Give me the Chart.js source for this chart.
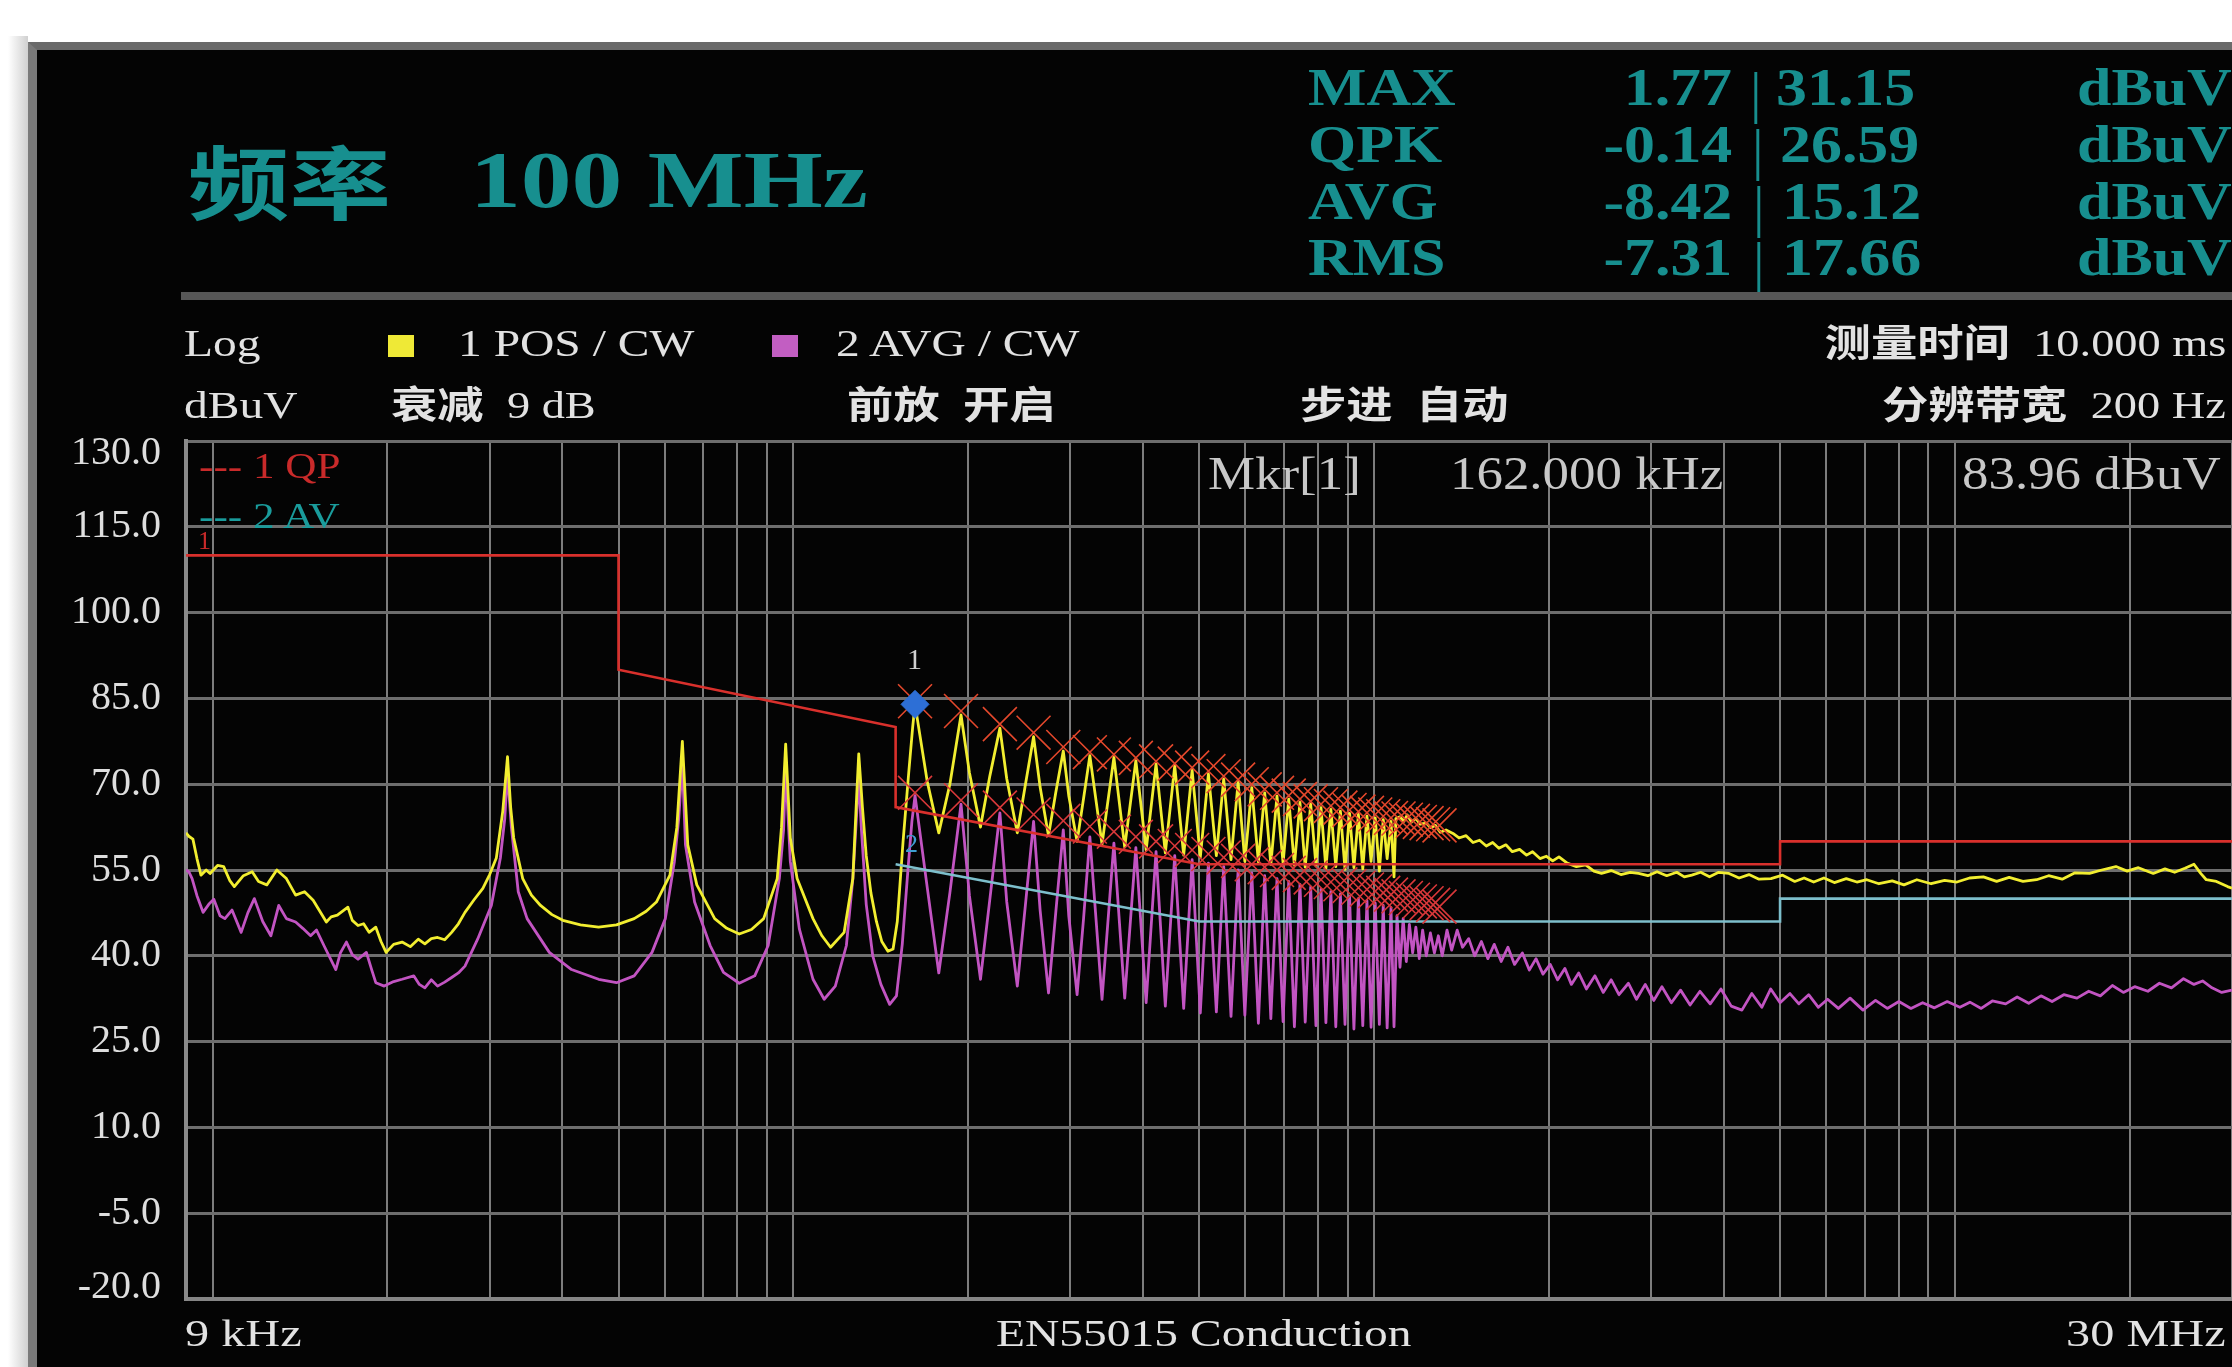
<!DOCTYPE html>
<html>
<head>
<meta charset="utf-8">
<script src="https://cdn.jsdelivr.net/npm/chart.js@4.4.1/dist/chart.umd.min.js"></script>
<style>
  body { margin: 0; width: 2232px; height: 1367px; background: #fff; position: relative; overflow: hidden;
         font-family: "Liberation Serif", "Noto Sans CJK SC", serif; }
  #shade { position: absolute; left: 8px; top: 36px; width: 20px; bottom: 0; background: linear-gradient(to right, #fff, #d0d0d0); }
  #panel { position: absolute; left: 28px; top: 42px; right: 0; bottom: 0; background: #040404;
           border-left: 9px solid #7a7a7a; border-top: 8px solid #6a6a6a; }
  #sep { position: absolute; left: 181px; right: 0; top: 292px; height: 8px; background: #575757; z-index: 2; }
  #plot { position: absolute; left: 0; top: 0; z-index: 1; }
  .t { position: absolute; white-space: nowrap; line-height: 1; z-index: 2; color: #e2e2e2;
       transform-origin: 0 50%; }
  .r { transform-origin: 100% 50%; }
  .teal { color: #178f8f; font-weight: bold; }
  .cjk { font-weight: bold; }
  .sq { position: absolute; width: 26px; height: 22px; z-index: 2; }
</style>
</head>
<body>
<div id="shade"></div>
<div id="panel"></div>

<!-- header -->
<div class="t teal" style="left:188px;top:146px;font-size:80px;transform:scaleX(1.27)">频率</div>
<div class="t teal" style="left:470px;top:140px;font-size:80px;transform:scaleX(1.27)">100 MHz</div>

<div class="t teal" style="left:1308px;top:62px;font-size:52px;transform:scaleX(1.19)">MAX</div>
<div class="t teal" style="left:1308px;top:119px;font-size:52px;transform:scaleX(1.19)">QPK</div>
<div class="t teal" style="left:1308px;top:176px;font-size:52px;transform:scaleX(1.19)">AVG</div>
<div class="t teal" style="left:1308px;top:232px;font-size:52px;transform:scaleX(1.19)">RMS</div>

<div class="t teal r" style="right:500px;top:62px;font-size:52px;transform:scaleX(1.19)">1.77</div>
<div class="t teal r" style="right:500px;top:119px;font-size:52px;transform:scaleX(1.19)">-0.14</div>
<div class="t teal r" style="right:500px;top:176px;font-size:52px;transform:scaleX(1.19)">-8.42</div>
<div class="t teal r" style="right:500px;top:232px;font-size:52px;transform:scaleX(1.19)">-7.31</div>

<div class="t teal" style="left:1750px;top:64px;font-size:58px;font-weight:normal">|</div>
<div class="t teal" style="left:1752px;top:121px;font-size:58px;font-weight:normal">|</div>
<div class="t teal" style="left:1753px;top:178px;font-size:58px;font-weight:normal">|</div>
<div class="t teal" style="left:1753px;top:234px;font-size:58px;font-weight:normal">|</div>

<div class="t teal" style="left:1776px;top:62px;font-size:52px;transform:scaleX(1.19)">31.15</div>
<div class="t teal" style="left:1780px;top:119px;font-size:52px;transform:scaleX(1.19)">26.59</div>
<div class="t teal" style="left:1782px;top:176px;font-size:52px;transform:scaleX(1.19)">15.12</div>
<div class="t teal" style="left:1782px;top:232px;font-size:52px;transform:scaleX(1.19)">17.66</div>

<div class="t teal" style="left:2077px;top:62px;font-size:52px;transform:scaleX(1.19)">dBuV</div>
<div class="t teal" style="left:2077px;top:119px;font-size:52px;transform:scaleX(1.19)">dBuV</div>
<div class="t teal" style="left:2077px;top:176px;font-size:52px;transform:scaleX(1.19)">dBuV</div>
<div class="t teal" style="left:2077px;top:232px;font-size:52px;transform:scaleX(1.19)">dBuV</div>

<div id="sep"></div>

<div class="t" style="left:184px;top:324px;font-size:38px;transform:scaleX(1.25)">Log</div>
<div class="sq" style="left:388px;top:335px;background:#efe936"></div>
<div class="t" style="left:458px;top:324px;font-size:38px;transform:scaleX(1.25)">1 POS / CW</div>
<div class="sq" style="left:772px;top:335px;background:#c25ec2"></div>
<div class="t" style="left:836px;top:324px;font-size:38px;transform:scaleX(1.25)">2 AVG / CW</div>
<div class="t r" style="right:6px;top:324px;font-size:38px;transform:scaleX(1.22)"><span class="cjk">测量时间</span>&nbsp; 10.000 ms</div>

<div class="t" style="left:184px;top:386px;font-size:38px;transform:scaleX(1.25)">dBuV</div>
<div class="t" style="left:391px;top:386px;font-size:38px;transform:scaleX(1.22)"><span class="cjk">衰减</span>&nbsp; 9 dB</div>
<div class="t" style="left:847px;top:386px;font-size:38px;transform:scaleX(1.22)"><span class="cjk">前放</span>&nbsp; <span class="cjk">开启</span></div>
<div class="t" style="left:1300px;top:386px;font-size:38px;transform:scaleX(1.22)"><span class="cjk">步进</span>&nbsp; <span class="cjk">自动</span></div>
<div class="t r" style="right:6px;top:386px;font-size:38px;transform:scaleX(1.22)"><span class="cjk">分辨带宽</span>&nbsp; 200 Hz</div>

<!-- inside the plot -->
<div class="t" style="left:199px;top:448px;font-size:36px;color:#c92a2a;transform:scaleX(1.2)">--- 1 QP</div>
<div class="t" style="left:199px;top:498px;font-size:36px;color:#1a9c9c;transform:scaleX(1.2)">--- 2 AV</div>
<div class="t" style="left:198px;top:528px;font-size:26px;color:#c92a2a">1</div>
<div class="t" style="left:1208px;top:451px;font-size:46px;color:#c8c8c8;transform:scaleX(1.15)">Mkr[1]</div>
<div class="t" style="left:1450px;top:451px;font-size:46px;color:#c8c8c8;transform:scaleX(1.15)">162.000 kHz</div>
<div class="t" style="left:1962px;top:451px;font-size:46px;color:#c8c8c8;transform:scaleX(1.15)">83.96 dBuV</div>
<div class="t" id="tag1" style="font-size:30px;color:#d0d0d0">1</div>
<div class="t" id="tag2" style="font-size:26px;color:#3e9fd2">2</div>

<!-- footer -->
<div class="t" style="left:185px;top:1314px;font-size:38px;transform:scaleX(1.27)">9 kHz</div>
<div class="t" style="left:996px;top:1314px;font-size:38px;transform:scaleX(1.25)">EN55015 Conduction</div>
<div class="t r" style="right:6px;top:1314px;font-size:38px;transform:scaleX(1.27)">30 MHz</div>

<canvas id="plot" width="2232" height="1367"></canvas>

<script>
// Values. Frequency in kHz, level in dBuV.

// 1 POS / CW, 9 kHz .. 160 kHz
const posLowFreq = [
  9.0, 9.1, 9.25, 9.4, 9.55, 9.75, 9.9, 10.2, 10.45, 10.7,
  10.9, 11.3, 11.7, 12.0, 12.4, 12.9, 13.4, 13.9, 14.4, 14.9,
  15.3, 15.7, 16.0, 16.4, 17.1, 17.4, 17.8, 18.2, 18.6, 19.1,
  19.5, 19.9, 20.5, 21.2, 21.9, 22.6, 23.2, 23.8, 24.4, 25.1,
  25.8, 26.5, 27.2, 28.2, 29.2, 30.0, 30.8, 31.6, 32.2, 32.6,
  33.0, 34.2, 35.4, 36.7, 38.4, 40.1, 43.0, 46.2, 49.6, 53.2,
  55.8, 58.1, 61.3, 63.0, 64.4, 65.8, 68.2, 73.2, 76.8, 80.7,
  84.7, 88.9, 93.8, 95.4, 97.0, 98.8, 101.5, 108.1, 112.0, 115.9,
  122.3, 126.6, 128.5, 129.6, 131.5, 133.5, 136.0, 139.0, 142.0, 145.5,
  148.5, 151.0, 154.5, 158.0, 160.5
];
const posLowLevel = [
  61.5, 60.9, 60.4, 57.0, 54.1, 55.0, 54.4, 55.8, 55.6, 53.2,
  52.1, 54.0, 54.7, 53.0, 52.4, 55.0, 53.5, 50.6, 51.2, 49.7,
  47.8, 45.9, 46.8, 47.1, 48.5, 46.2, 45.3, 45.6, 44.1, 45.0,
  42.5, 40.6, 42.0, 42.4, 41.6, 42.9, 42.1, 43.0, 43.2, 42.8,
  44.1, 45.6, 47.6, 49.8, 51.8, 54.2, 57.1, 65.3, 74.8, 66.0,
  60.6, 53.5, 50.6, 48.8, 47.2, 46.2, 45.4, 45.0, 45.4, 46.5,
  47.8, 49.4, 54.1, 62.4, 77.5, 59.4, 52.4, 46.5, 44.8, 43.8,
  44.6, 46.5, 53.5, 62.4, 77.0, 60.6, 53.5, 46.5, 43.5, 41.5,
  44.1, 53.5, 67.6, 75.3, 66.0, 57.5, 51.0, 46.0, 42.5, 40.8,
  41.2, 46.0, 60.0, 72.0, 80.0
];

// 2 AVG / CW, 9 kHz .. 160 kHz
const avgLowFreq = [
  9.0, 9.1, 9.22, 9.4, 9.63, 9.85, 10.05, 10.3, 10.5, 10.8,
  11.2, 11.5, 11.8, 12.2, 12.6, 13.0, 13.4, 13.9, 14.3, 14.75,
  15.1, 15.55, 16.3, 16.6, 17.0, 17.4, 17.8, 18.4, 18.8, 19.1,
  19.75, 20.5, 21.2, 22.2, 22.7, 23.2, 23.8, 24.4, 25.1, 25.8,
  26.5, 27.2, 28.6, 30.2, 31.3, 31.85, 32.2, 32.7, 33.6, 34.8,
  38.0, 41.5, 46.2, 49.6, 53.2, 57.1, 60.2, 62.4, 63.5, 64.4,
  65.2, 67.6, 71.9, 75.8, 80.7, 85.8, 90.5, 94.6, 96.2, 97.0,
  98.8, 102.4, 108.1, 113.0, 118.1, 123.4, 126.6, 129.6, 131.0, 133.5,
  137.0, 141.5, 146.5, 150.5, 154.0, 157.5, 160.0
];
const avgLowLevel = [
  55.0, 54.7, 53.5, 50.5, 47.6, 49.0, 49.9, 47.0, 46.5, 48.0,
  44.1, 47.5, 50.0, 46.0, 43.5, 48.8, 46.5, 45.9, 44.8, 43.5,
  44.5, 41.8, 37.6, 40.5, 42.4, 40.2, 39.4, 40.6, 37.5, 35.3,
  34.7, 35.5, 35.9, 36.5, 35.0, 34.4, 35.8, 34.7, 35.4, 36.2,
  37.0, 38.2, 42.9, 48.8, 57.1, 64.0, 72.0, 62.4, 51.2, 46.5,
  40.6, 37.6, 35.9, 35.3, 36.5, 40.6, 46.5, 56.5, 64.1, 74.0,
  59.4, 49.4, 41.8, 37.1, 35.2, 36.5, 41.8, 53.5, 62.0, 73.0,
  56.5, 44.7, 35.9, 32.4, 34.7, 41.8, 53.5, 71.0, 62.0, 49.0,
  40.0, 35.0, 31.5, 33.0, 42.0, 55.0, 63.5
];

// harmonic comb 162 kHz .. 1.08 MHz (peaks and dips, both traces)
const combFreq = [
  162.0, 170.0, 178.0, 186.0, 194.4, 201.0, 210.0, 218.0, 226.8, 233.0,
  243.0, 251.0, 259.2, 266.0, 275.0, 283.0, 291.6, 298.0, 308.0, 316.0,
  324.0, 340.0, 356.4, 372.0, 388.8, 405.0, 421.2, 437.0, 453.6, 470.0,
  486.0, 502.0, 518.4, 535.0, 550.8, 567.0, 583.2, 599.0, 615.6, 632.0,
  648.0, 664.0, 680.4, 697.0, 712.8, 729.0, 745.2, 761.0, 777.6, 794.0,
  810.0, 826.0, 842.4, 859.0, 874.8, 891.0, 907.2, 923.0, 939.6, 956.0,
  972.0, 988.0, 1004.4, 1021.0, 1036.8, 1053.0, 1069.2, 1082.0
];
const posCombLevel = [
  83.96, 70.5, 61.5, 70.0, 82.1, 72.0, 62.5, 71.5, 79.8, 71.0,
  61.5, 70.0, 78.3, 69.5, 61.0, 68.5, 75.8, 68.0, 60.0, 67.5,
  75.0, 59.5, 74.7, 59.0, 74.1, 58.5, 73.5, 58.0, 73.2, 57.6,
  72.4, 57.2, 71.8, 57.5, 70.9, 56.8, 70.3, 56.5, 69.4, 56.4,
  68.5, 56.0, 67.9, 56.2, 67.4, 55.8, 66.8, 55.5, 66.5, 55.8,
  65.9, 55.3, 65.6, 55.6, 65.3, 55.1, 64.9, 55.4, 64.7, 55.2,
  64.4, 56.5, 64.1, 54.8, 63.8, 57.0, 63.5, 53.8
];
const avgCombLevel = [
  68.0, 52.0, 37.0, 51.0, 66.5, 50.5, 35.9, 50.0, 65.0, 49.5,
  34.7, 49.0, 63.5, 48.0, 33.5, 47.5, 62.0, 47.0, 33.2, 46.5,
  60.8, 32.4, 59.7, 32.6, 58.9, 31.8, 58.2, 31.2, 57.5, 30.8,
  56.8, 30.0, 56.2, 30.2, 55.6, 29.4, 55.0, 29.6, 54.5, 28.2,
  54.0, 29.0, 53.5, 28.5, 53.0, 27.6, 52.5, 28.4, 52.0, 27.8,
  51.6, 28.3, 51.2, 27.6, 50.8, 28.0, 50.4, 27.2, 50.0, 27.8,
  49.6, 27.5, 49.2, 28.0, 48.8, 27.4, 48.4, 27.6
];

// 1 POS / CW above the comb
const posHighFreq = [
  1090, 1108, 1125, 1140, 1160, 1180, 1200, 1230, 1250, 1275,
  1300, 1330, 1367, 1400, 1440, 1480, 1519, 1560, 1600, 1640,
  1686, 1730, 1780, 1830, 1874, 1930, 1980, 2030, 2081, 2150,
  2230, 2313, 2390, 2463, 2560, 2660, 2760, 2854, 2960, 3070,
  3190, 3320, 3420, 3523, 3650, 3780, 3920, 4083, 4250, 4420,
  4600, 4822, 5050, 5300, 5500, 5713, 5950, 6200, 6500, 6780,
  7052, 7400, 7800, 8170, 8600, 9100, 9600, 10080, 10600, 11196,
  11800, 12400, 13100, 13824, 14500, 15300, 16100, 17055, 17900, 18936,
  19800, 20700, 21951, 23000, 23900, 24894, 25800, 26500, 27090, 28200,
  29475, 30000
];
const posHighLevel = [
  64.0, 64.3, 63.5, 64.6, 63.4, 64.0, 63.0, 63.2, 62.4, 62.8,
  61.6, 62.0, 61.4, 60.6, 61.0, 59.8, 60.2, 59.2, 59.8, 58.8,
  59.4, 58.2, 58.6, 57.6, 58.2, 57.0, 57.4, 56.6, 57.3, 56.2,
  55.6, 55.9, 54.8, 54.4, 54.9, 54.2, 54.6, 54.4, 54.0, 54.7,
  54.0, 54.6, 53.8, 54.1, 54.6, 53.8, 54.6, 54.4, 53.6, 54.2,
  53.4, 53.5, 54.1, 53.0, 53.6, 52.9, 53.6, 52.8, 53.5, 52.9,
  53.3, 52.6, 53.1, 52.4, 53.3, 52.6, 53.2, 52.9, 53.6, 53.8,
  53.0, 53.7, 53.0, 53.3, 54.0, 53.4, 54.5, 54.4, 55.0, 55.6,
  54.8, 55.4, 54.4, 55.2, 54.6, 55.3, 56.0, 54.4, 53.3, 53.0,
  52.1, 51.8
];

// 2 AVG / CW above the comb
const avgHighFreq = [
  1095, 1108, 1122, 1136, 1150, 1165, 1180, 1196, 1212, 1230,
  1250, 1270, 1290, 1310, 1335, 1360, 1390, 1420, 1455, 1490,
  1530, 1570, 1610, 1655, 1700, 1745, 1800, 1850, 1900, 1953,
  2010, 2070, 2130, 2186, 2250, 2320, 2400, 2480, 2560, 2640,
  2741, 2830, 2930, 3030, 3130, 3250, 3370, 3500, 3640, 3790,
  3955, 4120, 4298, 4470, 4650, 4818, 5000, 5200, 5387, 5600,
  5820, 6037, 6300, 6600, 6946, 7300, 7650, 8009, 8400, 8800,
  9220, 9700, 10200, 10614, 11100, 11600, 12228, 12800, 13400, 14067,
  14700, 15400, 16224, 17000, 17800, 18670, 19500, 20400, 21492, 22500,
  23600, 24750, 25800, 26700, 27711, 28800, 30000
];
const avgHighLevel = [
  47.0, 38.0, 46.5, 39.0, 45.5, 40.5, 45.0, 39.5, 44.5, 40.0,
  44.0, 40.5, 43.5, 40.0, 44.5, 41.0, 44.5, 41.5, 43.0, 40.0,
  42.5, 39.5, 42.0, 39.0, 41.5, 38.5, 40.5, 37.5, 39.5, 36.8,
  38.5, 35.8, 37.8, 35.0, 37.0, 34.2, 36.5, 33.6, 35.8, 33.2,
  35.2, 32.4, 35.0, 32.2, 34.6, 31.8, 34.0, 31.4, 33.8, 31.6,
  34.2, 31.2, 30.5, 33.4, 31.0, 34.2, 31.8, 33.4, 31.6, 33.2,
  31.0, 32.4, 30.8, 32.6, 30.5, 32.2, 30.8, 32.0, 30.8, 31.8,
  30.9, 32.0, 31.0, 31.9, 30.8, 32.1, 31.6, 32.8, 31.7, 33.0,
  32.0, 33.2, 32.6, 33.8, 33.0, 34.8, 33.6, 34.6, 33.8, 35.2,
  34.4, 36.0, 35.0, 35.6, 34.4, 33.6, 34.0
];

// EN55015 limit lines
const qpLimitFreq = [9, 50, 50, 150, 150, 500, 5000, 5000, 30000];
const qpLimitLevel = [110, 110, 90, 80, 66, 56, 56, 60, 60];
const avLimitFreq = [150, 500, 5000, 5000, 30000];
const avLimitLevel = [56, 46, 46, 50, 50];

// peak-search crosses (QP row above, AV row below)
const markFreq = [
  162.0, 194.4, 226.8, 259.2, 291.6, 324.0, 356.4, 388.8, 421.2, 453.6,
  486.0, 518.4, 550.8, 583.2, 615.6, 648.0, 680.4, 712.8, 745.2, 777.6,
  810.0, 842.4, 874.8, 907.2, 939.6, 972.0, 1004.4, 1036.8, 1069.2, 1101.6,
  1134.0, 1166.4, 1198.8, 1231.2, 1263.6, 1296.0
];
const qpMarkLevel = [
  84.5, 82.8, 80.5, 79.0, 76.5, 75.6, 75.2, 74.6, 74.0, 73.6,
  72.9, 72.3, 71.4, 70.8, 70.0, 69.1, 68.5, 68.0, 67.4, 67.0,
  66.5, 66.2, 65.9, 65.5, 65.2, 65.0, 64.7, 64.4, 64.1, 64.0,
  63.8, 63.6, 63.4, 63.2, 63.0, 62.8
];
const avMarkLevel = [
  68.5, 67.2, 65.9, 64.7, 63.6, 62.6, 61.7, 60.8, 60.0, 59.2,
  58.5, 57.8, 57.2, 56.6, 56.0, 55.5, 55.0, 54.5, 54.1, 53.7,
  53.3, 52.9, 52.5, 52.2, 51.9, 51.6, 51.3, 51.0, 50.7, 50.4,
  50.1, 49.8, 49.5, 49.2, 48.9, 48.6
];

// markers
const mkr1Freq = [162.0];
const mkr1Level = [83.96];
const mkr2Freq = [160.0];
const mkr2Level = [59.5];

// axes
const levelTicks = [-20, -5, 10, 25, 40, 55, 70, 85, 100, 115, 130];
const gridFreq = [
  10, 20, 30, 40, 50, 60, 70, 80, 90,
  100, 200, 300, 400, 500, 600, 700, 800, 900,
  1000, 2000, 3000, 4000, 5000, 6000, 7000, 8000, 9000,
  10000, 20000, 30000
];

Chart.defaults.font.family = "'Liberation Serif', serif";

const pts = (fs, vs) => fs.map((f, i) => ({ x: f, y: vs[i] }));

const posTrace = pts(posLowFreq, posLowLevel).concat(pts(combFreq, posCombLevel), pts(posHighFreq, posHighLevel));
const avgTrace = pts(avgLowFreq, avgLowLevel).concat(pts(combFreq, avgCombLevel), pts(avgHighFreq, avgHighLevel));

// top and bottom level labels sit inside the frame on the instrument
const edgeLabels = {
  id: 'edgeLabels',
  beforeDraw(chart) {
    for (const it of chart.scales.y.getLabelItems()) {
      if (it.moved) continue;
      if (it.label === '130.0') it.options.translation[1] += 12;
      if (it.label === '-20.0') it.options.translation[1] -= 12;
      it.moved = true;
    }
  }
};

const chart = new Chart(document.getElementById('plot'), {
  type: 'line',
  data: {
    datasets: [
      { label: 'Mkr 1', data: pts(mkr1Freq, mkr1Level), showLine: false,
        pointStyle: 'rectRot', pointRadius: 14, backgroundColor: '#2d6fd6', borderColor: '#2d6fd6' },
      { label: 'QP peaks', data: pts(markFreq, qpMarkLevel), showLine: false,
        pointStyle: 'crossRot', pointRadius: 24, borderColor: '#e4482c', borderWidth: 1.6 },
      { label: 'AV peaks', data: pts(markFreq, avMarkLevel), showLine: false,
        pointStyle: 'crossRot', pointRadius: 24, borderColor: '#d8383a', borderWidth: 1.6 },
      { label: '1 QP', data: pts(qpLimitFreq, qpLimitLevel), borderColor: '#d9302c',
        borderWidth: 2.6, pointRadius: 0 },
      { label: '2 AV', data: pts(avLimitFreq, avLimitLevel), borderColor: '#7dbfcc',
        borderWidth: 2.6, pointRadius: 0 },
      { label: '1 POS / CW', data: posTrace, borderColor: '#f2ee30', borderWidth: 2.8,
        pointRadius: 0, borderJoinStyle: 'round' },
      { label: '2 AVG / CW', data: avgTrace, borderColor: '#c254c2', borderWidth: 2.8,
        pointRadius: 0, borderJoinStyle: 'round' }
    ]
  },
  options: {
    responsive: false,
    animation: false,
    events: [],
    layout: { autoPadding: false, padding: { top: 441, bottom: 68, left: 0, right: 0 } },
    plugins: { legend: { display: false }, tooltip: { enabled: false } },
    scales: {
      x: {
        type: 'logarithmic', min: 9, max: 30000,
        afterBuildTicks: s => { s.ticks = gridFreq.map(v => ({ value: v })); },
        afterFit: s => { s.height = 0; },
        ticks: { display: false },
        grid: { color: '#7d7d7d', lineWidth: 2, drawTicks: false },
        border: { color: '#858585', width: 4 }
      },
      y: {
        min: -20, max: 130,
        afterBuildTicks: s => { s.ticks = levelTicks.map(v => ({ value: v })); },
        afterFit: s => { s.width = 186; },
        ticks: { color: '#dedede', padding: 25, font: { size: 40 }, callback: v => v.toFixed(1) },
        grid: { color: '#6e6e6e', lineWidth: 3, drawTicks: false },
        border: { color: '#8a8a8a', width: 4 }
      }
    }
  },
  plugins: [edgeLabels]
});

// marker numbers, placed through the chart scales
const xs = chart.scales.x, ys = chart.scales.y;
const tag1 = document.getElementById('tag1');
tag1.style.left = (xs.getPixelForValue(mkr1Freq[0]) - 8) + 'px';
tag1.style.top = (ys.getPixelForValue(mkr1Level[0]) - 60) + 'px';
const tag2 = document.getElementById('tag2');
tag2.style.left = (xs.getPixelForValue(mkr2Freq[0]) - 7) + 'px';
tag2.style.top = (ys.getPixelForValue(mkr2Level[0]) - 13) + 'px';
</script>
</body>
</html>
